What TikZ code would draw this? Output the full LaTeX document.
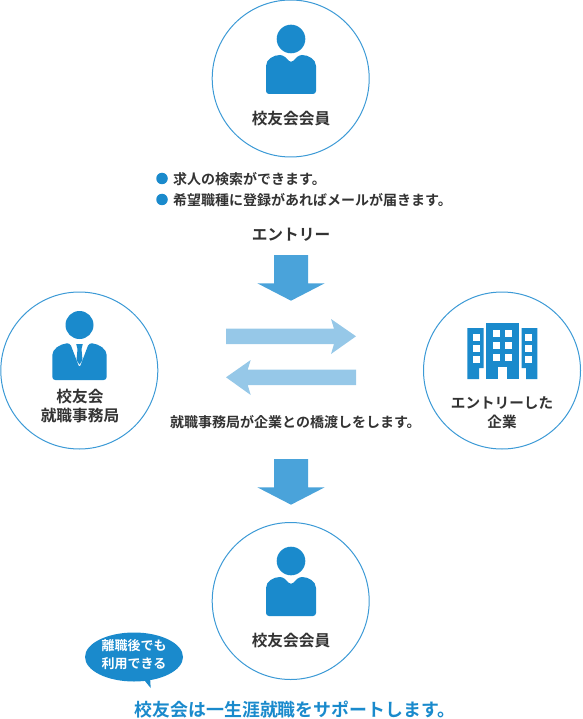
\documentclass[tikz,border=0pt]{standalone}
\usepackage{fontspec}
\usetikzlibrary{shapes.geometric}
\setmainfont{Noto Sans CJK JP}[BoldFont={* Bold}]
\definecolor{mainblue}{HTML}{1A8ACC}
\definecolor{ringblue}{HTML}{3C9AD6}
\definecolor{arrowblue}{HTML}{4AA3DA}
\definecolor{lightblue}{HTML}{96C8E8}
\definecolor{inktext}{HTML}{333333}
\tikzset{
  ring/.style={circle,draw=ringblue,line width=1pt,fill=white,minimum size=157pt,inner sep=0pt},
  label/.style={font=\bfseries\fontsize{15.7}{19.5}\selectfont,text=inktext,align=center,inner sep=0pt},
  note/.style={font=\bfseries\fontsize{14}{15}\selectfont,text=inktext,anchor=west,inner sep=0pt},
  bullet/.style={circle,fill=mainblue,minimum size=11.5pt,inner sep=0pt},
  icon/.style={fill=mainblue,draw=none},
  glass/.style={fill=white,draw=none},
  downarrow/.style={fill=arrowblue,draw=none},
  sidearrow/.style={fill=lightblue,draw=none},
}
\newcommand{\personicon}[2]{%
  \begin{scope}[shift={(#1,#2)}]
    \fill[icon] (0,-40) circle (14.3);
    \fill[icon,rounded corners=3pt] (-25,15) -- (25,15) -- (25,-10) .. controls (25,-20) and (17,-24) .. (8,-24) -- (0,-16) -- (-8,-24) .. controls (-17,-24) and (-25,-20) .. (-25,-10) -- cycle;
  \end{scope}}
\begin{document}
\begin{tikzpicture}[x=1pt,y=-1pt]
\useasboundingbox (0,0) rectangle (582,719);
\node[ring] (top) at (290.7,78.5) {};
\node[ring] (left) at (79.3,370.5) {};
\node[ring] (right) at (502,370.5) {};
\node[ring] (bottom) at (290.7,601) {};
\personicon{291}{79}
\personicon{291}{601}
% suit person
\fill[icon] (79.5,325) circle (14);
\fill[icon,rounded corners=3pt] (52.3,380) -- (106.7,380) -- (106.7,358) .. controls (106.7,349) and (99,344) .. (89,343) -- (79.5,368) -- (70,343) .. controls (60,344) and (52.3,349) .. (52.3,358) -- cycle;
\fill[icon] (76.2,344) -- (82.8,344) -- (81.5,349) -- (82.5,360) -- (79.5,364.5) -- (76.5,360) -- (77.5,349) -- cycle;
% building
\fill[icon] (467.3,328) -- (483.7,328) -- (483.7,368) -- (479,368) -- (479,379) -- (467.3,379) -- cycle;
\fill[icon] (521.7,328) -- (537.3,328) -- (537.3,379) -- (526,379) -- (526,368) -- (521.7,368) -- cycle;
\fill[icon] (486.3,323) rectangle (518.7,379);
\foreach \y in {334.3,345,356}{
  \fill[glass] (473.3,\y) rectangle ++(6.7,6.7);
  \fill[glass] (525,\y) rectangle ++(6.7,6.7);
}
\foreach \y in {330,342,353.7}{
  \fill[glass] (492.7,\y) rectangle ++(7.3,7.3);
  \fill[glass] (504.7,\y) rectangle ++(7.3,7.3);
}
\fill[glass] (497.7,367) rectangle (507,379);
% labels
\node[label] (lblTop) at (291,118.5) {校友会会員};
\node[label] (lblBottom) at (291,640.5) {校友会会員};
\node[label] (lblLeft) at (80,406) {校友会\\就職事務局};
\node[label,font=\bfseries\fontsize{14.6}{19.5}\selectfont] (lblRight) at (502,412.5) {エントリーした\\企業};
% notes
\node[bullet] (b1) at (162,178.5) {};
\node[bullet] (b2) at (162,199.5) {};
\node[note] (n1) at (173,179.5) {求人の検索ができます。};
\node[note] (n2) at (173,200.5) {希望職種に登録があればメールが届きます。};
\node[label] (entry) at (291,235) {エントリー};
\node[note] (bridge) at (170,422) {就職事務局が企業との橋渡しをします。};
% arrows
\fill[downarrow] (274,255) -- (308,255) -- (308,283.3) -- (324.7,283.3) -- (291,300.7) -- (257.3,283.3) -- (274,283.3) -- cycle;
\fill[downarrow] (274,459) -- (308,459) -- (308,487.3) -- (324.7,487.3) -- (291,504.7) -- (257.3,487.3) -- (274,487.3) -- cycle;
\fill[sidearrow] (226,328.7) -- (334,328.7) -- (331,319) -- (356,336.3) -- (331,354) -- (334,344) -- (226,344) -- cycle;
\fill[sidearrow] (356,369.7) -- (247.7,369.7) -- (250.7,360) -- (226,377.3) -- (250.7,395) -- (247.7,385) -- (356,385) -- cycle;
% bubble
\fill[mainblue] (143.3,679) -- (150.7,688) -- (150,677) -- cycle;
\node[ellipse,fill=mainblue,minimum width=98pt,minimum height=49pt,inner sep=0pt] (bubble) at (134,657) {};
\node[inner sep=0pt,font=\bfseries\fontsize{13}{18}\selectfont,text=white,align=center] (bubbleText) at (134,654.5) {離職後でも\\利用できる};
\node[inner sep=0pt,font=\bfseries\fontsize{17.9}{20}\selectfont,text=mainblue] (slogan) at (295,709.5) {校友会は一生涯就職をサポートします。};
\end{tikzpicture}
\end{document}
